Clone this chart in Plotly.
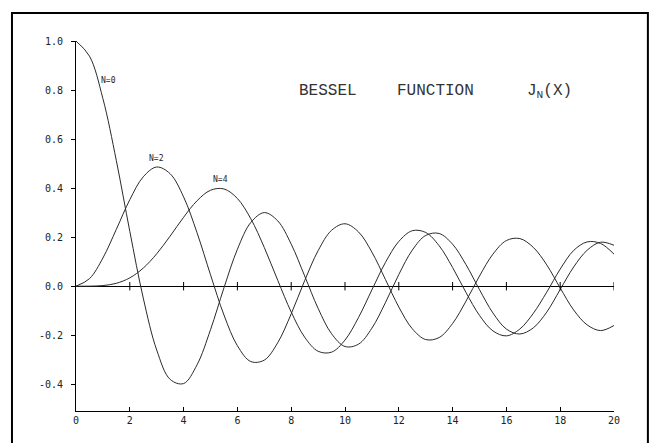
import plotly.graph_objects as go

# Values (x step 0.5 from 0 to 20)
x_vals = [i * 0.5 for i in range(41)]
j0_vals = [1.0000, 0.9385, 0.7652, 0.5118, 0.2239, -0.0484, -0.2601, -0.3801, -0.3971, -0.3205,
           -0.1776, -0.0068, 0.1506, 0.2601, 0.3001, 0.2663, 0.1717, 0.0419, -0.0903, -0.1939,
           -0.2459, -0.2366, -0.1712, -0.0677, 0.0477, 0.1469, 0.2069, 0.2150, 0.1711, 0.0875,
           -0.0142, -0.1092, -0.1749, -0.1950, -0.1699, -0.1055, -0.0134, 0.0782, 0.1466, 0.1794,
           0.1670]
j2_vals = [0.0000, 0.0306, 0.1149, 0.2321, 0.3528, 0.4461, 0.4861, 0.4586, 0.3641, 0.2178,
           0.0466, -0.1173, -0.2429, -0.3074, -0.3014, -0.2303, -0.1130, 0.0224, 0.1448, 0.2279,
           0.2546, 0.2216, 0.1390, 0.0280, -0.0849, -0.1734, -0.2177, -0.2094, -0.1520, -0.0608,
           0.0416, 0.1308, 0.1862, 0.1942, 0.1584, 0.0869, -0.0075, -0.0968, -0.1577, -0.1810,
           -0.1603]
j4_vals = [0.0000, 0.0002, 0.0025, 0.0118, 0.0340, 0.0738, 0.1321, 0.2044, 0.2811, 0.3484,
           0.3913, 0.3967, 0.3577, 0.2747, 0.1578, 0.0239, -0.1053, -0.2078, -0.2654, -0.2691,
           -0.2196, -0.1283, -0.0150, 0.0962, 0.1825, 0.2262, 0.2192, 0.1650, 0.0762, -0.0262,
           -0.1192, -0.1824, -0.2026, -0.1746, -0.1108, -0.0242, 0.0696, 0.1457, 0.1806, 0.1744,
           0.1307]

x_ticks = [0, 2, 4, 6, 8, 10, 12, 14, 16, 18, 20]
x_tick_labels = ["0", "2", "4", "6", "8", "10", "12", "14", "16", "18", "20"]
y_ticks = [1.0, 0.8, 0.6, 0.4, 0.2, 0.0, -0.2, -0.4]
y_tick_labels = ["1.0", "0.8", "0.6", "0.4", "0.2", "0.0", "-0.2", "-0.4"]

curve_labels = ["N=0", "N=2", "N=4"]
label_pos = [(1.19, 0.84), (3.01, 0.521), (5.39, 0.436)]

line_col = "#2a2a2a"
fig = go.Figure()
for ys in (j0_vals, j2_vals, j4_vals):
    fig.add_trace(go.Scatter(x=x_vals, y=ys, mode="lines",
                             line=dict(color=line_col, width=1, shape="spline", smoothing=1),
                             hoverinfo="skip", showlegend=False))

# tick marks on the zero line
fig.add_trace(go.Scatter(x=x_ticks[1:], y=[0] * (len(x_ticks) - 1), mode="markers",
                         marker=dict(symbol="line-ns", size=6,
                                     line=dict(color="black", width=1)),
                         hoverinfo="skip", showlegend=False))

for txt, (lx, ly) in zip(curve_labels, label_pos):
    fig.add_annotation(x=lx, y=ly, text=txt, showarrow=False,
                       font=dict(family="DejaVu Sans Mono", size=8, color="#222"))

title_font = dict(family="Liberation Mono", size=16, color="#333")
for word, wx in (("BESSEL", 9.35), ("FUNCTION", 13.38), ("J<sub>N</sub>(X)", 17.62)):
    fig.add_annotation(x=wx, y=0.795, text=word, showarrow=False, font=title_font)

fig.update_xaxes(range=[0, 20], tickvals=x_ticks, ticktext=x_tick_labels,
                 showline=True, linecolor="black", linewidth=1, showgrid=False, zeroline=False,
                 ticks="inside", ticklen=4, tickcolor="black",
                 tickfont=dict(family="DejaVu Sans Mono", size=10, color="#222"))
fig.update_yaxes(range=[-0.509, 1.0], tickvals=y_ticks, ticktext=y_tick_labels,
                 showline=True, linecolor="black", linewidth=1, showgrid=False,
                 zeroline=True, zerolinecolor="black", zerolinewidth=1,
                 ticks="outside", ticklen=4, tickcolor="black", ticklabelstandoff=6,
                 tickfont=dict(family="DejaVu Sans Mono", size=10, color="#222"))

fig.add_shape(type="rect", xref="paper", yref="paper", x0=-0.119, x1=1.063, y0=-0.1, y1=1.076,
              line=dict(color="black", width=2))

fig.update_layout(width=650, height=443, margin=dict(l=76, r=36, t=41, b=32),
                  plot_bgcolor="white", paper_bgcolor="white", hovermode=False)

fig.write_html("out.html", config={"displayModeBar": False, "staticPlot": True},
               post_script="document.body.style.margin='0';document.body.style.overflow='hidden';")
